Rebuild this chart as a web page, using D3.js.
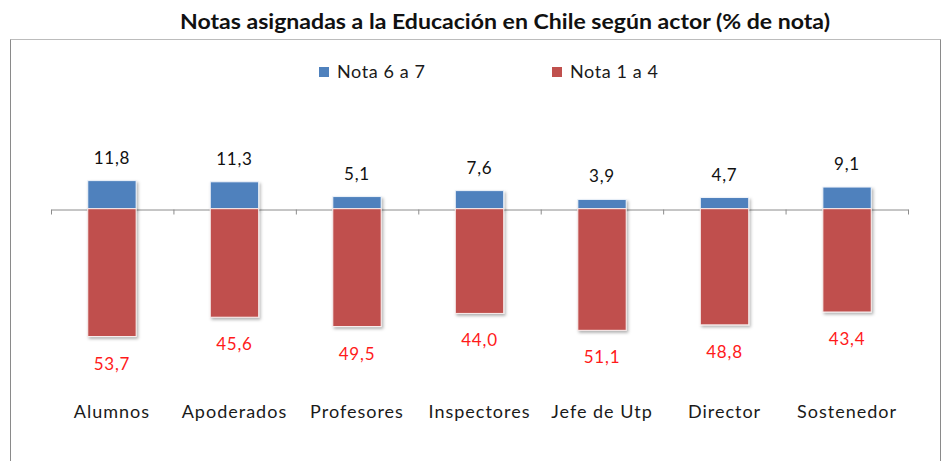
<!DOCTYPE html>
<html><head><meta charset="utf-8">
<script src="https://cdn.jsdelivr.net/npm/d3@7"></script>
<style>body{margin:0;background:#fff}svg{display:block}</style>
</head><body>
<svg id="chart" width="946" height="461"></svg>
<script>
const categories = ["Alumnos","Apoderados","Profesores","Inspectores","Jefe de Utp","Director","Sostenedor"];
const nota67 = [11.8, 11.3, 5.1, 7.6, 3.9, 4.7, 9.1];
const nota14 = [53.7, 45.6, 49.5, 44.0, 51.1, 48.8, 43.4];
const seriesNames = ["Nota 6 a 7","Nota 1 a 4"];
const colors = ["#4F81BD","#C0504D"];
const titleText = "Notas asignadas a la Educación en Chile según actor (% de nota)";

const svg = d3.select("#chart");
const fmt = v => d3.format(".1f")(v).replace(".", ",");
const FONT = "Lato, 'Open Sans', sans-serif";

const defs = svg.append("defs");
const f = defs.append("filter").attr("id","sh").attr("x","-20%").attr("y","-20%").attr("width","150%").attr("height","150%");
f.append("feDropShadow").attr("dx",1.5).attr("dy",2).attr("stdDeviation",1.5).attr("flood-color","#000").attr("flood-opacity",0.3);

// frame
svg.append("path").attr("d","M10.5,475 V39.5 H940.5 V475").attr("fill","none").attr("stroke","#bcbcbc").attr("stroke-width",1);
svg.append("line").attr("x1",10.5).attr("x2",10.5).attr("y1",39.5).attr("y2",475).attr("stroke","#8a8a8a");
svg.append("line").attr("x1",940.5).attr("x2",940.5).attr("y1",39.5).attr("y2",475).attr("stroke","#8a8a8a");

// title
svg.append("text").attr("x",180).attr("y",29)
  .attr("font-family",FONT).attr("font-weight","bold").attr("font-size",21)
  .attr("textLength",650).attr("lengthAdjust","spacingAndGlyphs")
  .attr("fill","#111").text(titleText);

// scales
const x = d3.scaleBand().domain(categories).range([51, 908]).paddingInner(0.605).paddingOuter(0.3);
const y = d3.scaleLinear().domain([-60, 15]).range([208.7 + 60*2.38, 208.7 - 15*2.38]);

// axis with boundary ticks
const xt = d3.scaleLinear().domain([0, categories.length]).range([51, 908]);
const axis = svg.append("g").attr("transform",`translate(0,${Math.round(y(0))+0.5})`)
  .call(d3.axisBottom(xt).tickValues(d3.range(categories.length+1)).tickSize(5).tickSizeOuter(0).tickFormat(""));
axis.select(".domain").attr("stroke","#8c8c8c");
axis.selectAll(".tick line").attr("stroke","#8c8c8c");

// bars
const bw = x.bandwidth();
svg.append("g").selectAll("rect").data(categories).join("rect")
  .attr("x", d => x(d)).attr("width", bw)
  .attr("y", (d,i) => y(nota67[i])).attr("height", (d,i) => y(0) - y(nota67[i]))
  .attr("fill", colors[0]).attr("stroke","#eef3fa").attr("stroke-width",1).attr("filter","url(#sh)");
svg.append("g").selectAll("rect").data(categories).join("rect")
  .attr("x", d => x(d)).attr("width", bw)
  .attr("y", y(0)).attr("height", (d,i) => y(-nota14[i]) - y(0))
  .attr("fill", colors[1]).attr("stroke","#f8eeee").attr("stroke-width",1).attr("filter","url(#sh)");

// value labels
svg.append("g").selectAll("text").data(categories).join("text")
  .attr("x", d => x(d) + bw/2).attr("y", (d,i) => y(nota67[i]) - 17)
  .attr("text-anchor","middle").attr("font-family",FONT).attr("font-size",17).attr("letter-spacing",0.8)
  .attr("fill","#111").text((d,i) => fmt(nota67[i]));
svg.append("g").selectAll("text").data(categories).join("text")
  .attr("x", d => x(d) + bw/2).attr("y", (d,i) => y(-nota14[i]) + 33)
  .attr("text-anchor","middle").attr("font-family",FONT).attr("font-size",17).attr("letter-spacing",0.8)
  .attr("fill","#ff1a1a").text((d,i) => fmt(nota14[i]));

// category labels
svg.append("g").selectAll("text").data(categories).join("text")
  .attr("x", d => x(d) + bw/2).attr("y", 418)
  .attr("text-anchor","middle").attr("font-family",FONT).attr("font-size",18)
  .attr("letter-spacing",1).attr("fill","#1a1a1a").text(d => d);

// legend
const legX = [319, 552];
const leg = svg.append("g").selectAll("g").data(seriesNames).join("g")
  .attr("transform", (d,i) => `translate(${legX[i]},67)`);
leg.append("rect").attr("width",10).attr("height",10).attr("fill",(d,i)=>colors[i]);
leg.append("text").attr("x",18).attr("y",11).attr("font-family",FONT).attr("font-size",18).attr("letter-spacing",0.6)
  .attr("fill","#1a1a1a").text(d => d);
</script>
</body></html>
